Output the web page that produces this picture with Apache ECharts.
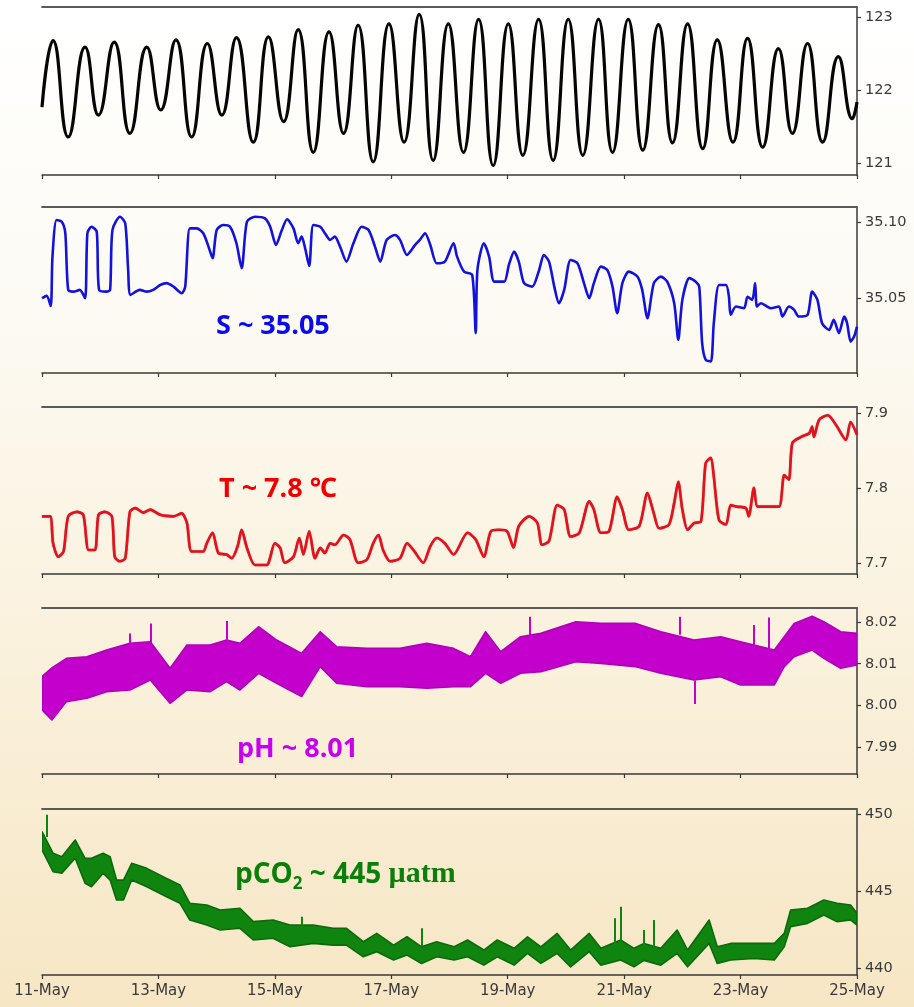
<!DOCTYPE html>
<html><head><meta charset="utf-8">
<script src="https://cdn.jsdelivr.net/npm/echarts@6/dist/echarts.min.js"></script>
<style>html,body{margin:0;padding:0;width:914px;height:1007px;overflow:hidden;background:#fff;}
#c{width:914px;height:1007px;}</style></head>
<body><div id="c"></div>
<script>
// ---------- x axis (days since 11-May 00:00) ----------
const xTickLabels = ['11-May','13-May','15-May','17-May','19-May','21-May','23-May','25-May'];

// ---------- Panel 1: water level (tide), extrema ----------
const tideDays = [0,0.19,0.45,0.74,0.97,1.24,1.51,1.80,2.04,2.30,2.57,2.84,3.09,3.34,3.63,3.89,4.15,4.40,4.66,4.93,5.18,5.43,5.69,5.96,6.22,6.48,6.72,6.98,7.24,7.50,7.75,8.01,8.26,8.53,8.78,9.04,9.29,9.56,9.80,10.07,10.32,10.59,10.83,11.09,11.35,11.60,11.87,12.12,12.38,12.65,12.89,13.15,13.41,13.68,13.92,14.0];
const tideLevel = [121.77,122.68,121.36,122.59,121.66,122.66,121.41,122.59,121.73,122.69,121.36,122.64,121.66,122.72,121.29,122.73,121.57,122.83,121.15,122.80,121.41,122.89,121.02,122.91,121.29,123.04,121.04,122.91,121.15,122.97,120.97,122.91,121.11,122.97,121.04,122.97,121.11,122.97,121.15,122.97,121.18,122.90,121.28,122.91,121.20,122.69,121.29,122.71,121.22,122.57,121.41,122.64,121.29,122.46,121.61,121.84];
const tideTicks = [121,122,123];

// ---------- Panel 2: salinity ----------
const salDays = [0,0.08,0.15,0.18,0.25,0.34,0.40,0.45,0.54,0.65,0.74,0.78,0.85,0.94,0.98,1.11,1.17,1.21,1.34,1.43,1.48,1.52,1.68,1.80,1.91,2.03,2.14,2.26,2.40,2.46,2.54,2.66,2.77,2.86,2.93,3.00,3.11,3.23,3.34,3.43,3.52,3.66,3.83,3.92,4.02,4.12,4.21,4.32,4.40,4.46,4.52,4.59,4.66,4.78,4.86,4.95,5.03,5.12,5.23,5.35,5.49,5.61,5.72,5.81,5.92,6.06,6.15,6.27,6.41,6.49,6.58,6.67,6.78,6.92,7.07,7.13,7.25,7.39,7.45,7.48,7.59,7.68,7.77,7.94,8.02,8.11,8.19,8.28,8.42,8.54,8.62,8.71,8.80,8.88,8.97,9.08,9.20,9.31,9.40,9.48,9.60,9.71,9.80,9.88,9.97,10.08,10.23,10.31,10.40,10.51,10.63,10.74,10.86,10.93,11.00,11.12,11.23,11.29,11.34,11.40,11.49,11.54,11.63,11.75,11.80,11.83,11.92,12.06,12.12,12.20,12.25,12.28,12.35,12.52,12.66,12.72,12.83,12.92,13.00,13.15,13.23,13.32,13.40,13.52,13.60,13.69,13.78,13.83,13.89,13.95,14.00];
const salValue = [35.0498,35.0513,35.0447,35.0772,35.1013,35.1002,35.0928,35.0553,35.0541,35.0553,35.0498,35.0926,35.0969,35.0936,35.0553,35.0541,35.0553,35.0947,35.1035,35.0991,35.0684,35.0520,35.0553,35.0541,35.0553,35.0585,35.0597,35.0574,35.0531,35.0574,35.0958,35.0958,35.0926,35.0838,35.0761,35.0947,35.0980,35.0969,35.0860,35.0695,35.1002,35.1035,35.1024,35.0969,35.0849,35.0947,35.1018,35.0958,35.0860,35.0904,35.0827,35.0710,35.0980,35.0969,35.0926,35.0882,35.0904,35.0838,35.0739,35.0860,35.0969,35.0947,35.0838,35.0739,35.0882,35.0914,35.0882,35.0783,35.0849,35.0882,35.0926,35.0849,35.0728,35.0739,35.0860,35.0772,35.0673,35.0651,35.0268,35.0684,35.0860,35.0772,35.0607,35.0607,35.0717,35.0805,35.0739,35.0597,35.0574,35.0684,35.0783,35.0739,35.0574,35.0465,35.0553,35.0750,35.0728,35.0597,35.0498,35.0597,35.0706,35.0684,35.0574,35.0399,35.0597,35.0673,35.0640,35.0553,35.0366,35.0597,35.0640,35.0607,35.0465,35.0224,35.0487,35.0630,35.0607,35.0574,35.0202,35.0092,35.0081,35.0333,35.0585,35.0585,35.0508,35.0388,35.0443,35.0432,35.0508,35.0487,35.0597,35.0443,35.0465,35.0432,35.0443,35.0377,35.0443,35.0421,35.0377,35.0388,35.0541,35.0487,35.0333,35.0289,35.0355,35.0268,35.0377,35.0333,35.0212,35.0245,35.0311];
const salTicks = [35.05,35.10];

// ---------- Panel 3: temperature ----------
const tempDays = [0,0.14,0.19,0.28,0.37,0.45,0.60,0.71,0.80,0.91,0.97,1.08,1.20,1.25,1.34,1.43,1.51,1.60,1.74,1.86,2.03,2.26,2.40,2.49,2.57,2.77,2.83,2.93,3.03,3.17,3.26,3.36,3.43,3.52,3.66,3.86,4.00,4.09,4.17,4.32,4.42,4.49,4.59,4.69,4.78,4.86,4.95,5.03,5.18,5.29,5.43,5.58,5.69,5.78,5.86,5.98,6.15,6.27,6.38,6.55,6.67,6.78,6.92,7.07,7.31,7.45,7.59,7.71,7.85,7.99,8.10,8.19,8.37,8.51,8.59,8.71,8.85,8.97,9.08,9.23,9.40,9.48,9.60,9.74,9.88,9.97,10.08,10.26,10.40,10.51,10.60,10.77,10.86,10.93,11.00,11.09,11.20,11.32,11.40,11.49,11.54,11.63,11.75,11.83,11.94,12.09,12.14,12.23,12.29,12.46,12.66,12.75,12.83,12.89,13.04,13.18,13.23,13.26,13.35,13.50,13.64,13.81,13.89,14.00];
const tempValue = [7.762,7.762,7.726,7.708,7.715,7.762,7.768,7.764,7.717,7.717,7.764,7.768,7.762,7.708,7.702,7.706,7.768,7.773,7.767,7.771,7.764,7.762,7.766,7.753,7.715,7.715,7.726,7.740,7.713,7.711,7.706,7.722,7.744,7.720,7.697,7.697,7.726,7.720,7.700,7.708,7.733,7.711,7.742,7.706,7.720,7.713,7.726,7.724,7.737,7.731,7.700,7.704,7.726,7.737,7.717,7.702,7.706,7.726,7.717,7.700,7.722,7.733,7.726,7.711,7.740,7.731,7.708,7.742,7.744,7.742,7.720,7.749,7.762,7.753,7.724,7.729,7.777,7.771,7.735,7.740,7.782,7.771,7.740,7.742,7.788,7.771,7.744,7.749,7.793,7.766,7.746,7.751,7.780,7.808,7.771,7.744,7.753,7.755,7.833,7.840,7.815,7.757,7.751,7.777,7.775,7.773,7.762,7.800,7.775,7.775,7.775,7.817,7.811,7.860,7.868,7.873,7.882,7.868,7.891,7.897,7.884,7.864,7.888,7.871];
const tempTicks = [7.7,7.8,7.9];

// ---------- Panel 4: pH (noisy band: lower / upper envelope) ----------
const pHDays  = [0,0.17,0.42,0.77,1.11,1.51,1.86,2.20,2.49,2.89,3.17,3.40,3.72,4.03,4.46,4.78,5.06,5.58,6.15,6.61,7.07,7.36,7.62,7.88,8.22,8.57,9.17,9.60,10.20,10.63,11.20,11.66,12.00,12.58,12.75,12.92,13.23,13.43,13.72,14.0];
const pHUpper = [8.0069,8.0090,8.0113,8.0117,8.0133,8.0149,8.0153,8.0089,8.0145,8.0145,8.0157,8.0149,8.0189,8.0157,8.0125,8.0177,8.0141,8.0137,8.0137,8.0149,8.0137,8.0117,8.0177,8.0129,8.0165,8.0173,8.0201,8.0197,8.0197,8.0177,8.0157,8.0165,8.0153,8.0133,8.0165,8.0197,8.0214,8.0201,8.0177,8.0173];
const pHLower = [7.9989,7.9965,8.0009,8.0017,8.0033,8.0037,8.0061,8.0005,8.0037,8.0033,8.0057,8.0037,8.0077,8.0053,8.0021,8.0093,8.0053,8.0045,8.0045,8.0041,8.0045,8.0045,8.0077,8.0053,8.0077,8.0081,8.0105,8.0101,8.0093,8.0077,8.0061,8.0069,8.0049,8.0049,8.0093,8.0117,8.0133,8.0113,8.0089,8.0097];
const pHSpikeDays = [1.51,1.86,3.17,8.37,10.96,11.22,12.23,12.49];
const pHSpikeFrom = [8.0140,8.0150,8.0150,8.0160,8.0170,8.0060,8.0140,8.0130];
const pHSpikeTo   = [8.0173,8.0197,8.0203,8.0213,8.0213,8.0003,8.0193,8.0211];
const pHTicks = [7.99,8.00,8.01,8.02];

// ---------- Panel 5: pCO2 (noisy band) ----------
const co2Days  = [0,0.19,0.34,0.57,0.74,0.85,1.05,1.17,1.28,1.40,1.54,1.80,2.14,2.37,2.54,2.83,3.06,3.40,3.63,3.97,4.26,4.66,5.00,5.23,5.52,5.75,6.04,6.27,6.52,6.78,7.08,7.31,7.59,7.82,8.11,8.34,8.57,8.85,9.08,9.40,9.60,9.94,10.17,10.34,10.63,10.91,11.09,11.46,11.60,11.83,12.23,12.58,12.75,12.86,13.15,13.43,13.66,13.89,14.0];
const co2Upper = [448.85,447.45,447.23,448.31,447.12,447.12,447.45,447.23,445.71,445.71,446.80,446.47,445.82,445.39,444.20,444.09,443.77,443.88,443.01,443.12,442.79,442.79,442.58,442.58,441.71,442.25,441.49,442.03,441.38,441.71,441.38,441.82,441.17,441.82,441.28,442.03,441.38,442.25,441.17,442.25,441.28,441.82,441.28,441.60,441.28,442.47,441.17,443.12,441.38,441.60,441.60,441.60,442.25,443.77,443.88,444.42,444.20,444.09,443.55];
const co2Lower = [447.66,446.25,446.15,447.12,445.50,445.28,446.15,445.71,444.42,444.42,445.71,445.28,444.63,444.20,443.12,442.79,442.47,442.58,441.82,441.93,441.38,441.60,441.49,441.49,440.73,441.06,440.52,440.84,440.30,440.73,440.52,440.73,440.19,440.73,440.19,440.95,440.30,440.95,440.08,441.06,440.19,440.52,440.08,440.50,440.19,440.95,440.08,441.60,440.30,440.52,440.62,440.52,441.38,442.69,442.90,443.44,443.01,443.12,442.79];
const co2SpikeDays = [0.08,4.46,6.52,9.84,9.94,10.34,10.50];
const co2SpikeFrom = [448.5,442.5,441.4,441.5,441.8,441.5,441.3];
const co2SpikeTo   = [449.94,443.33,442.58,443.23,443.98,442.47,443.12];
const co2Ticks = [440,445,450];

// ---------- helpers ----------
const zip = (a, b) => a.map((v, i) => [v, b[i]]);
const spikes = (d, f, t) => d.map((v, i) => ({ coords: [[v, f[i]], [v, t[i]]] }));

const AX = '#3a3a3a';
const grids = [
  { top: 7,   height: 168 },
  { top: 207, height: 166 },
  { top: 407, height: 167 },
  { top: 608, height: 166 },
  { top: 809, height: 166 }
].map(g => Object.assign({ left: 42, right: 57 }, g));

const yCfg = [
  { min: 120.84, max: 123.14, ticks: tideTicks, fmt: v => v.toFixed(0) },
  { min: 35.0005, max: 35.1099, ticks: salTicks, fmt: v => v.toFixed(2) },
  { min: 7.685, max: 7.908, ticks: tempTicks, fmt: v => v.toFixed(1) },
  { min: 7.9835, max: 8.0234, ticks: pHTicks, fmt: v => v.toFixed(2) },
  { min: 439.55, max: 450.32, ticks: co2Ticks, fmt: v => v.toFixed(0) }
];

const xAxes = [], yAxes = [];
grids.forEach((g, i) => {
  xAxes.push({
    type: 'value', gridIndex: i, min: 0, max: 14, interval: 2, position: 'bottom',
    axisLine: { show: true, onZero: false, lineStyle: { color: AX, width: 1.5 } },
    axisTick: { show: true, length: 4, lineStyle: { color: AX, width: 1.2 } },
    splitLine: { show: false },
    axisLabel: {
      show: i === 4, margin: 9, color: '#3a3a3a', fontFamily: 'DejaVu Sans', fontSize: 15,
      formatter: v => xTickLabels[Math.round(v / 2)] || ''
    }
  });
  xAxes.push({
    type: 'value', gridIndex: i, min: 0, max: 14, position: 'top',
    axisLine: { show: true, onZero: false, lineStyle: { color: '#5a5a5a', width: 1.8 } },
    axisTick: { show: false }, axisLabel: { show: false }, splitLine: { show: false }
  });
  const c = yCfg[i];
  yAxes.push({
    type: 'value', gridIndex: i, min: c.min, max: c.max, position: 'right', scale: true,
    axisLine: { show: true, onZero: false, lineStyle: { color: AX, width: 1.5 } },
    axisTick: { show: true, length: 4, customValues: c.ticks, lineStyle: { color: AX, width: 1.2 } },
    splitLine: { show: false },
    axisLabel: {
      customValues: c.ticks, margin: 8, color: '#3a3a3a', fontFamily: 'DejaVu Sans', fontSize: 14.5,
      formatter: c.fmt
    }
  });
});

const lineBase = { type: 'line', showSymbol: false, symbol: 'none', animation: false, z: 3 };

// band polygon drawn through the axis scales (api.coord)
function band(xIdx, yIdx, days, lower, upper, fill, stroke) {
  return {
    type: 'custom', coordinateSystem: 'cartesian2d', xAxisIndex: xIdx, yAxisIndex: yIdx,
    animation: false, z: 3, clip: true,
    data: [[days[0], lower[0]]],
    renderItem: function (params, api) {
      const top = days.map((d, i) => api.coord([d, upper[i]]));
      const bot = days.map((d, i) => api.coord([d, lower[i]])).reverse();
      return { type: 'polygon', shape: { points: top.concat(bot) },
        style: { fill: fill, stroke: stroke, lineWidth: 1.6, lineJoin: 'round' } };
    }
  };
}

const series = [
  Object.assign({}, lineBase, { xAxisIndex: 0, yAxisIndex: 0, data: zip(tideDays, tideLevel), smooth: 0.5,
    lineStyle: { color: '#050505', width: 3.2 } }),
  Object.assign({}, lineBase, { xAxisIndex: 2, yAxisIndex: 1, data: zip(salDays, salValue), smooth: 0.25,
    lineStyle: { color: '#1212dc', width: 2.6 } }),
  Object.assign({}, lineBase, { xAxisIndex: 4, yAxisIndex: 2, data: zip(tempDays, tempValue), smooth: 0.25,
    lineStyle: { color: '#e4101c', width: 2.6, shadowColor: 'rgba(120,0,0,0.5)', shadowBlur: 1 } }),
  band(6, 3, pHDays, pHLower, pHUpper, '#c400cc', '#b000b8'),
  { type: 'lines', coordinateSystem: 'cartesian2d', xAxisIndex: 6, yAxisIndex: 3, z: 4, animation: false,
    data: spikes(pHSpikeDays, pHSpikeFrom, pHSpikeTo), lineStyle: { color: '#c400cc', width: 2, opacity: 1 } },
  band(8, 4, co2Days, co2Lower, co2Upper, '#0f850f', '#0b6a0b'),
  { type: 'lines', coordinateSystem: 'cartesian2d', xAxisIndex: 8, yAxisIndex: 4, z: 4, animation: false,
    data: spikes(co2SpikeDays, co2SpikeFrom, co2SpikeTo), lineStyle: { color: '#0f850f', width: 2, opacity: 1 } }
];

const annoFont = '"Open Sans", "Noto Sans", sans-serif';
const graphic = [
  { type: 'text', x: 216, y: 326, z: 10, style: { text: 'S ~ 35.05', fill: '#0a0aee', font: 'bold 27px ' + annoFont, textVerticalAlign: 'middle' } },
  { type: 'text', x: 219, y: 489, z: 10, style: { text: 'T ~ 7.8 ℃', fill: '#f00000', font: 'bold 27px ' + annoFont, textVerticalAlign: 'middle' } },
  { type: 'text', x: 237, y: 749, z: 10, style: { text: 'pH ~ 8.01', fill: '#c800f0', font: 'bold 27px ' + annoFont, textVerticalAlign: 'middle' } },
  { type: 'text', x: 235, y: 874, z: 10, style: {
      text: '{a|pCO}{s|2}{a| ~ 445 }{b|µatm}', textVerticalAlign: 'middle',
      rich: {
        a: { fill: '#0a800a', font: 'bold 28px ' + annoFont, verticalAlign: 'bottom' },
        s: { fill: '#0a800a', font: 'bold 17px ' + annoFont, verticalAlign: 'bottom', padding: [0, 0, -4, 0] },
        b: { fill: '#0a800a', font: 'bold 30px "Liberation Serif", "DejaVu Serif", serif', verticalAlign: 'bottom' }
      } } }
];

const chart = echarts.init(document.getElementById('c'), null, { renderer: 'canvas' });
chart.setOption({
  animation: false,
  backgroundColor: { type: 'linear', x: 0, y: 0, x2: 0, y2: 1,
    colorStops: [ { offset: 0, color: '#ffffff' }, { offset: 0.3, color: '#fcfaf3' }, { offset: 0.65, color: '#faf1dc' }, { offset: 1, color: '#f6e6c4' } ] },
  grid: grids, xAxis: xAxes, yAxis: yAxes, series: series, graphic: graphic
});
</script></body></html>
